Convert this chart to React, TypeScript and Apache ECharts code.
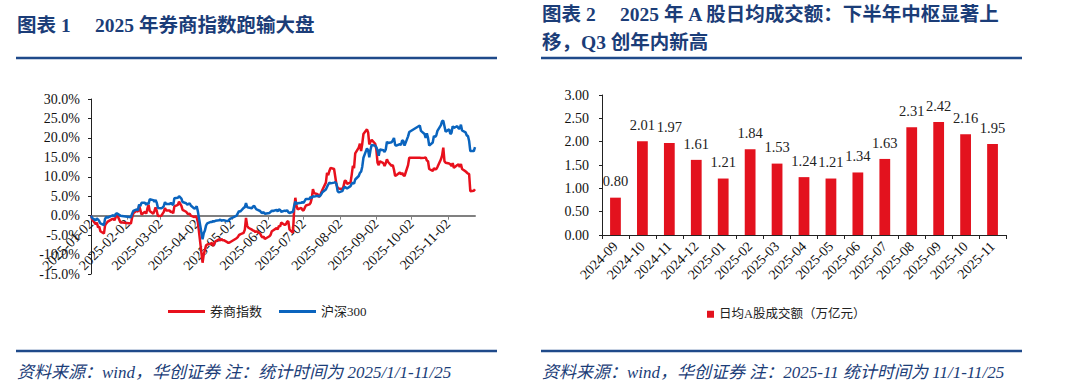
import React, { useEffect, useRef } from "react";
import * as echarts from "echarts";

// ---------- Chart 1 data: 2025 cumulative return (%) ----------
const tradeDates = [
  "2025-01-02", "2025-01-03", "2025-01-06", "2025-01-07", "2025-01-08", "2025-01-09", "2025-01-10", "2025-01-13", "2025-01-14", "2025-01-15", "2025-01-16", "2025-01-17", "2025-01-20", "2025-01-21", "2025-01-22", "2025-01-23", "2025-01-24", "2025-01-27",
  "2025-02-05", "2025-02-06", "2025-02-07", "2025-02-10", "2025-02-11", "2025-02-12", "2025-02-13", "2025-02-14", "2025-02-17", "2025-02-18", "2025-02-19", "2025-02-20", "2025-02-21", "2025-02-24", "2025-02-25", "2025-02-26", "2025-02-27", "2025-02-28",
  "2025-03-03", "2025-03-04", "2025-03-05", "2025-03-06", "2025-03-07", "2025-03-10", "2025-03-11", "2025-03-12", "2025-03-13", "2025-03-14", "2025-03-17", "2025-03-18", "2025-03-19", "2025-03-20", "2025-03-21", "2025-03-24", "2025-03-25", "2025-03-26", "2025-03-27", "2025-03-28", "2025-03-31",
  "2025-04-01", "2025-04-02", "2025-04-03", "2025-04-07", "2025-04-08", "2025-04-09", "2025-04-10", "2025-04-11", "2025-04-14", "2025-04-15", "2025-04-16", "2025-04-17", "2025-04-18", "2025-04-21", "2025-04-22", "2025-04-23", "2025-04-24", "2025-04-25", "2025-04-28", "2025-04-29", "2025-04-30",
  "2025-05-06", "2025-05-07", "2025-05-08", "2025-05-09", "2025-05-12", "2025-05-13", "2025-05-14", "2025-05-15", "2025-05-16", "2025-05-19", "2025-05-20", "2025-05-21", "2025-05-22", "2025-05-23", "2025-05-26", "2025-05-27", "2025-05-28", "2025-05-29", "2025-05-30",
  "2025-06-03", "2025-06-04", "2025-06-05", "2025-06-06", "2025-06-09", "2025-06-10", "2025-06-11", "2025-06-12", "2025-06-13", "2025-06-16", "2025-06-17", "2025-06-18", "2025-06-19", "2025-06-20", "2025-06-23", "2025-06-24", "2025-06-25", "2025-06-26", "2025-06-27", "2025-06-30",
  "2025-07-01", "2025-07-02", "2025-07-03", "2025-07-04", "2025-07-07", "2025-07-08", "2025-07-09", "2025-07-10", "2025-07-11", "2025-07-14", "2025-07-15", "2025-07-16", "2025-07-17", "2025-07-18", "2025-07-21", "2025-07-22", "2025-07-23", "2025-07-24", "2025-07-25", "2025-07-28", "2025-07-29", "2025-07-30", "2025-07-31",
  "2025-08-01", "2025-08-04", "2025-08-05", "2025-08-06", "2025-08-07", "2025-08-08", "2025-08-11", "2025-08-12", "2025-08-13", "2025-08-14", "2025-08-15", "2025-08-18", "2025-08-19", "2025-08-20", "2025-08-21", "2025-08-22", "2025-08-25", "2025-08-26", "2025-08-27", "2025-08-28", "2025-08-29",
  "2025-09-01", "2025-09-02", "2025-09-03", "2025-09-04", "2025-09-05", "2025-09-08", "2025-09-09", "2025-09-10", "2025-09-11", "2025-09-12", "2025-09-15", "2025-09-16", "2025-09-17", "2025-09-18", "2025-09-19", "2025-09-22", "2025-09-23", "2025-09-24", "2025-09-25", "2025-09-26", "2025-09-29", "2025-09-30",
  "2025-10-09", "2025-10-10", "2025-10-13", "2025-10-14", "2025-10-15", "2025-10-16", "2025-10-17", "2025-10-20", "2025-10-21", "2025-10-22", "2025-10-23", "2025-10-24", "2025-10-27", "2025-10-28", "2025-10-29", "2025-10-30", "2025-10-31",
  "2025-11-03", "2025-11-04", "2025-11-05", "2025-11-06", "2025-11-07", "2025-11-10", "2025-11-11", "2025-11-12", "2025-11-13", "2025-11-14", "2025-11-17", "2025-11-18", "2025-11-19", "2025-11-20", "2025-11-21", "2025-11-24", "2025-11-25",
];

const brokerIndex = [
  0, -1.0, -2.2, -1.8, -3.0, -2.8, -4.0, -4.6, -2.5, -2.0, -1.6, -1.4, -0.9, -0.8, -1.2, -0.4, 0.4, -1.7,
  -2.0, -0.5, 0.6, 1.3, 1.0, 2.6, 1.5, 0.3, 1.0, 0.5, 1.8, 2.8, 1.2, 0.5, 1.2, 2.1, 1.2, -0.1,
  0.0, 0.5, 1.0, 2.0, 1.3, 1.3, 0.9, 1.0, 0.6, 2.4, 2.8, 3.6, 3.0, 2.5, 1.5, 1.0, 0.6, 0.4, 0.5, 0.0, -0.4,
  -0.1, -0.5, -1.6, -12.1, -10.0, -8.8, -7.6, -7.4, -7.2, -7.0, -7.8, -7.2, -6.6, -6.1, -6.4, -6.0, -6.3, -6.3, -6.8, -7.0, -6.9,
  -5.8, -5.5, -5.0, -4.8, -4.4, -3.6, -0.6, -2.6, -3.1, -3.6, -3.8, -3.9, -4.2, -4.0, -4.6, -5.2, -5.6, -5.4, -6.0,
  -5.3, -4.9, -4.0, -3.8, -3.2, -3.5, -2.6, -2.8, -1.8, -2.4, -2.2, -1.6, -1.4, -3.5, -4.4, 1.6, 4.6, 2.5, 1.6, 2.0,
  1.5, 1.3, 2.0, 2.6, 2.9, 3.3, 4.5, 6.8, 5.8, 5.5, 4.8, 5.2, 5.9, 6.6, 8.5, 11.0, 10.4, 11.5, 12.3, 12.0, 10.0, 8.0, 7.2,
  7.0, 6.8, 7.5, 8.9, 9.0, 8.2, 8.5, 10.5, 12.8, 12.2, 16.0, 17.5, 18.5, 16.6, 18.5, 21.0, 22.2, 21.4, 18.3, 19.0, 19.5,
  18.5, 17.0, 13.6, 13.0, 14.0, 13.5, 12.8, 13.5, 14.5, 13.8, 12.8, 13.0, 11.8, 10.2, 10.4, 11.1, 10.6, 11.0, 10.4, 10.2, 13.0, 14.9,
  14.9, 14.8, 14.9, 15.0, 14.2, 14.0, 12.0, 11.5, 12.2, 11.9, 12.0, 12.5, 14.5, 15.5, 17.5, 14.0, 13.6,
  13.4, 13.2, 12.8, 13.5, 12.3, 13.0, 13.2, 12.5, 13.3, 12.0, 11.4, 11.1, 10.8, 10.7, 6.3, 6.4, 6.8,
];

const hs300 = [
  0, -0.6, -1.2, -0.7, -1.0, -1.4, -2.0, -2.4, -0.8, -0.3, -0.5, -0.4, 0.0, 0.1, -0.2, 0.4, 0.6, 0.0,
  -0.4, 0.5, 1.2, 1.6, 1.4, 2.9, 2.5, 3.3, 3.3, 2.8, 3.3, 3.0, 4.2, 4.0, 3.6, 4.0, 3.3, 2.0,
  1.9, 2.1, 2.5, 3.5, 3.0, 3.0, 3.3, 3.0, 2.7, 4.5, 4.6, 5.0, 4.7, 4.4, 3.5, 3.2, 2.8, 3.0, 3.2, 2.6, 1.8,
  2.0, 2.4, 1.1, -6.1, -4.5, -3.8, -2.5, -2.0, -1.6, -1.6, -1.4, -1.5, -1.3, -1.2, -1.0, -1.3, -1.2, -1.2, -1.4, -1.3, -0.9,
  0.0, 0.6, 1.2, 1.0, 2.0, 2.2, 3.2, 2.2, 2.1, 1.9, 2.4, 2.5, 2.0, 1.6, 1.2, 0.8, 0.7, 0.9, 0.5,
  0.7, 1.0, 1.3, 1.2, 1.5, 1.1, 1.6, 1.5, 1.0, 1.3, 1.2, 1.4, 0.9, 0.7, 1.0, 2.5, 3.6, 3.0, 3.2, 3.3,
  3.5, 3.3, 3.8, 4.3, 4.3, 4.8, 4.5, 5.0, 4.9, 5.1, 5.0, 5.0, 5.5, 6.0, 6.7, 7.4, 8.0, 8.5, 8.3, 8.5, 8.6, 8.2, 6.3,
  6.0, 6.3, 7.0, 7.4, 7.2, 7.0, 7.6, 8.2, 8.5, 8.2, 9.3, 10.2, 11.0, 11.3, 12.6, 14.9, 17.3, 16.8, 15.0, 16.9, 18.2,
  18.0, 17.6, 16.8, 15.4, 17.0, 16.8, 16.4, 17.0, 19.0, 18.7, 18.9, 19.3, 20.0, 18.2, 18.0, 18.4, 18.2, 19.4, 19.2, 18.0, 20.4, 21.5,
  23.2, 21.8, 21.0, 20.0, 21.2, 20.0, 18.0, 18.8, 20.5, 20.2, 20.6, 21.8, 23.3, 24.3, 24.4, 23.0, 21.6,
  22.2, 21.0, 21.3, 23.0, 22.6, 23.0, 22.4, 22.4, 23.4, 21.9, 21.4, 20.6, 20.5, 19.2, 16.6, 16.6, 17.6,
];

const lineTickDates = [
  "2025-01-02", "2025-02-02", "2025-03-02", "2025-04-02", "2025-05-02", "2025-06-02",
  "2025-07-02", "2025-08-02", "2025-09-02", "2025-10-02", "2025-11-02",
];
const lineStartDate = "2025-01-02";
const lineEndDate = "2025-11-25";
const lineSeriesNames = ["券商指数", "沪深300"];
const yLeftMin = -15;
const yLeftMax = 30;
const yLeftStep = 5;

// ---------- Chart 2 data: average daily A-share turnover (trillion CNY) ----------
const barMonths = [
  "2024-09", "2024-10", "2024-11", "2024-12", "2025-01", "2025-02", "2025-03", "2025-04",
  "2025-05", "2025-06", "2025-07", "2025-08", "2025-09", "2025-10", "2025-11",
];
const turnover = [0.8, 2.01, 1.97, 1.61, 1.21, 1.84, 1.53, 1.24, 1.21, 1.34, 1.63, 2.31, 2.42, 2.16, 1.95];
const barSeriesName = "日均A股成交额（万亿元）";

const toUTC = (d: string) => Date.UTC(+d.slice(0, 4), +d.slice(5, 7) - 1, +d.slice(8, 10));
const dayOffset = (d: string) => Math.round((toUTC(d) - toUTC(lineStartDate)) / 86400000);

const SERIF = '"Liberation Serif", "Times New Roman", "Noto Sans CJK SC", serif';
const NAVY = "#1b3d78";
const RULE = "#1f4a8a";
const RED = "#e8101c";
const BLUE = "#0a64be";

const G1 = { left: 91, top: 99, width: 384, height: 175 };
const G2 = { left: 602, top: 95, width: 404, height: 140 };

export default function App() {
  const ref = useRef<HTMLDivElement>(null);

  useEffect(() => {
    if (!ref.current) return;
    const chart = echarts.init(ref.current, undefined, { renderer: "svg" });

    const tickOffsets = lineTickDates.map(dayOffset);
    const tickLabelMap: Record<number, string> = {};
    lineTickDates.forEach((d, i) => (tickLabelMap[tickOffsets[i]] = d));

    const brokerData = tradeDates.map((d, i) => [dayOffset(d), brokerIndex[i]]);
    const hsData = tradeDates.map((d, i) => [dayOffset(d), hs300[i]]);

    // distance of the zero line above the bottom of grid 1 (x axis drawn at 0%)
    const zeroLift = (G1.height * (0 - yLeftMin)) / (yLeftMax - yLeftMin);

    const titleFont = `bold 19.5px ${SERIF}`;
    const footFont = `italic 17px ${SERIF}`;

    const txt = (text: string, x: number, y: number, font: string) => ({
      type: "text",
      x,
      y,
      style: { text, font, fill: NAVY, verticalAlign: "middle", textVerticalAlign: "middle" },
    });
    const rule = (x1: number, x2: number, y: number) => ({
      type: "line",
      shape: { x1, y1: y, x2, y2: y },
      style: { stroke: RULE, lineWidth: 2.5 },
    });

    const option: any = {
      animation: false,
      backgroundColor: "#ffffff",
      textStyle: { fontFamily: SERIF },
      graphic: [
        txt("图表 1", 17, 25, titleFont),
        txt("2025 年券商指数跑输大盘", 95, 25, titleFont),
        rule(16, 497, 58),
        txt("图表 2", 542, 14, titleFont),
        txt("2025 年 A 股日均成交额：下半年中枢显著上", 620, 14, titleFont),
        txt("移，Q3 创年内新高", 542, 42, titleFont),
        rule(541, 1022, 58),
        rule(16, 497, 351),
        rule(541, 1022, 351),
        txt("资料来源：wind，华创证券 注：统计时间为 2025/1/1-11/25", 17, 372, footFont),
        txt("资料来源：wind，华创证券 注：2025-11 统计时间为 11/1-11/25", 542, 372, footFont),
      ],
      legend: [
        {
          data: lineSeriesNames,
          left: 163,
          top: 300,
          icon: "rect",
          itemWidth: 37,
          itemHeight: 3,
          itemGap: 17,
          textStyle: { fontSize: 13, color: "#222", fontFamily: SERIF },
        },
        {
          data: [barSeriesName],
          left: 702,
          top: 303,
          icon: "rect",
          itemWidth: 7,
          itemHeight: 7,
          itemGap: 4,
          textStyle: { fontSize: 12.5, color: "#222", fontFamily: SERIF },
        },
      ],
      grid: [
        { ...G1, containLabel: false },
        { ...G2, containLabel: false },
      ],
      xAxis: [
        {
          type: "value",
          gridIndex: 0,
          position: "bottom",
          offset: -zeroLift,
          min: 0,
          max: dayOffset(lineEndDate),
          splitLine: { show: false },
          axisLine: { show: true, onZero: false, lineStyle: { color: "#808080", width: 2 } },
          axisTick: { show: true, customValues: tickOffsets, length: 4, lineStyle: { color: "#808080", width: 1 } },
          axisLabel: {
            customValues: tickOffsets,
            rotate: 45,
            margin: 6,
            fontSize: 14,
            color: "#111",
            fontFamily: SERIF,
            formatter: (v: number) => tickLabelMap[v] ?? "",
          },
        },
        {
          type: "category",
          gridIndex: 1,
          data: barMonths,
          axisLine: { show: true, lineStyle: { color: "#222", width: 1 } },
          axisTick: { show: true, length: 4, lineStyle: { color: "#222" } },
          axisLabel: { rotate: 45, margin: 9, fontSize: 14, color: "#111", fontFamily: SERIF, interval: 0 },
        },
      ],
      yAxis: [
        {
          type: "value",
          gridIndex: 0,
          min: yLeftMin,
          max: yLeftMax,
          interval: yLeftStep,
          splitLine: { show: false },
          axisLine: { show: true, onZero: false, lineStyle: { color: "#222", width: 1 } },
          axisTick: { show: true, length: 3, lineStyle: { color: "#222" } },
          axisLabel: {
            margin: 11,
            fontSize: 14,
            color: "#111",
            fontFamily: SERIF,
            formatter: (v: number) => v.toFixed(1) + "%",
          },
        },
        {
          type: "value",
          gridIndex: 1,
          min: 0,
          max: 3,
          interval: 0.5,
          splitLine: { show: false },
          axisLine: { show: true, lineStyle: { color: "#222", width: 1 } },
          axisTick: { show: true, length: 3, lineStyle: { color: "#222" } },
          axisLabel: {
            margin: 13,
            fontSize: 14,
            color: "#111",
            fontFamily: SERIF,
            formatter: (v: number) => v.toFixed(2),
          },
        },
      ],
      series: [
        {
          name: lineSeriesNames[0],
          type: "line",
          xAxisIndex: 0,
          yAxisIndex: 0,
          data: brokerData,
          symbol: "none",
          lineStyle: { color: RED, width: 2.5 },
          itemStyle: { color: RED },
        },
        {
          name: lineSeriesNames[1],
          type: "line",
          xAxisIndex: 0,
          yAxisIndex: 0,
          data: hsData,
          symbol: "none",
          lineStyle: { color: BLUE, width: 2.5 },
          itemStyle: { color: BLUE },
        },
        {
          name: barSeriesName,
          type: "bar",
          xAxisIndex: 1,
          yAxisIndex: 1,
          data: turnover,
          barWidth: "40%",
          itemStyle: { color: "#e3121e" },
          label: {
            show: true,
            position: "top",
            distance: 9,
            fontSize: 14.5,
            color: "#222",
            fontFamily: SERIF,
            formatter: (p: any) => Number(p.value).toFixed(2),
          },
        },
      ],
    };

    chart.setOption(option);
    return () => chart.dispose();
  }, []);

  return (
    <div
      ref={ref}
      style={{ position: "fixed", left: 0, top: 0, width: 1080, height: 389, background: "#fff" }}
    />
  );
}
